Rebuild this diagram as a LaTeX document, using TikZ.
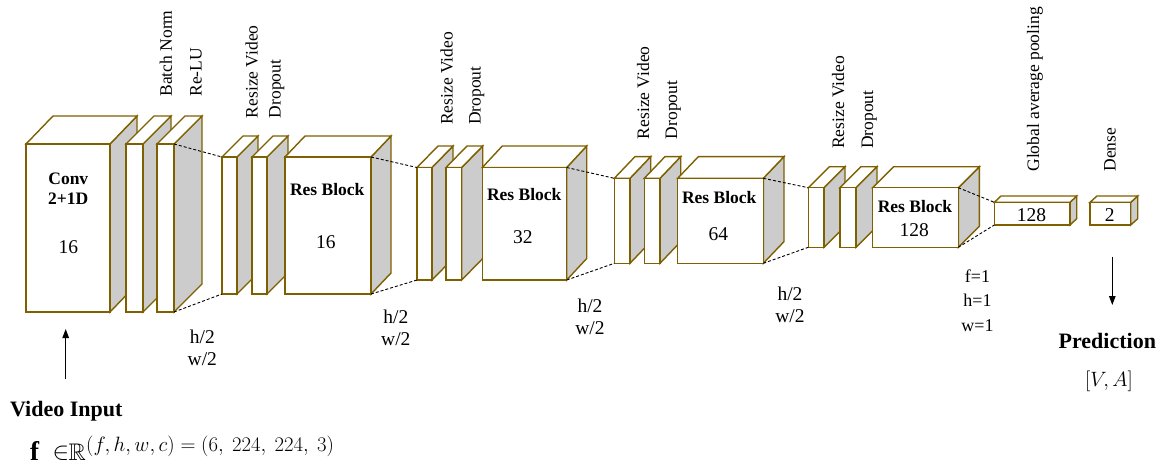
\documentclass[tikz,border=0pt]{standalone}
\usepackage{fontspec}
\usepackage{amssymb}
\setmainfont{Liberation Serif}
\usetikzlibrary{arrows.meta}

\definecolor{boxedge}{RGB}{127,96,0}
\definecolor{sidegray}{RGB}{204,204,204}

\tikzset{
  boxline/.style={draw=boxedge, line width=1.4pt, line join=miter},
  frontface/.style={boxline, fill=white, inner sep=0pt, outer sep=0pt},
  lbl/.style={font=\fontsize{17.5}{21}\selectfont, inner sep=0pt},
  rotlbl/.style={lbl, rotate=90, anchor=west},
  boldlbl/.style={font=\fontsize{17.5}{21}\selectfont\bfseries, inner sep=0pt},
  numlbl/.style={font=\fontsize{19.5}{22.5}\selectfont, inner sep=0pt},
  biglbl/.style={font=\fontsize{22}{26}\selectfont\bfseries, inner sep=0pt},
  link/.style={draw=black, line width=0.9pt, dash pattern=on 3pt off 2pt},
  flow/.style={draw=black, line width=1.1pt, -{Triangle[length=9pt,width=6.5pt]}}
}

% layer box: name, x, y (front top-left), width, height, depth dx, depth dy
\newcommand{\layerbox}[7]{%
  \draw[boxline, fill=sidegray] ({#2+#4},#3) -- ++(#6,-#7) -- ++(0,#5) -- ++(-#6,#7) -- cycle;
  \draw[boxline, fill=white] (#2,#3) -- ++(#6,-#7) -- ++(#4,0) -- ++(-#6,#7) -- cycle;
  \node[frontface, minimum width=#4pt, minimum height=#5pt, anchor=north west] (#1) at (#2,#3) {};
}

\begin{document}
\begin{tikzpicture}[x=1pt, y=-1pt]
\useasboundingbox (0,0) rectangle (1163,467);

% stem: Conv(2+1D), Batch Norm, ReLU
\layerbox{conv}{26}{144}{84}{168}{27}{28}
\layerbox{bn}{126}{144}{17}{168}{28}{28}
\layerbox{relu}{157}{144}{17}{168}{28}{28}

% stage 1
\layerbox{rvA}{222}{157}{15}{137}{21}{21}
\layerbox{doA}{252}{157}{15}{137}{21}{21}
\layerbox{rbA}{285}{157}{86}{137}{20}{21}

% stage 2
\layerbox{rvB}{417}{167.5}{15}{112.5}{21}{21.5}
\layerbox{doB}{446}{167.5}{15.7}{112.5}{21}{21.5}
\layerbox{rbB}{482.3}{167.5}{84.4}{112.5}{20}{21.5}

% stage 3
\layerbox{rvC}{614.3}{178.3}{15.7}{85}{20.7}{21.7}
\layerbox{doC}{644.3}{178.3}{15.7}{85}{20.7}{21.7}
\layerbox{rbC}{677.7}{178.3}{85.6}{85}{20.7}{21.7}

% stage 4
\layerbox{rvD}{808.3}{187.7}{15.7}{59.6}{21}{21}
\layerbox{doD}{840}{187.7}{16}{59.6}{21}{21}
\layerbox{rbD}{872.7}{187.7}{85.6}{59.6}{21}{21}

% head
\layerbox{gap}{994.3}{202.3}{75.7}{22.7}{6.7}{6.3}
\layerbox{dense}{1090}{202.3}{40.7}{22.7}{7}{6.3}

% dotted projection lines between stages
\draw[link] (relu.north east) -- (rvA.north west);
\draw[link] (relu.south east) -- (rvA.south west);
\draw[link] (rbA.north east) -- (rvB.north west);
\draw[link] (rbA.south east) -- (rvB.south west);
\draw[link] (rbB.north east) -- (rvC.north west);
\draw[link] (rbB.south east) -- (rvC.south west);
\draw[link] (rbC.north east) -- (rvD.north west);
\draw[link] (rbC.south east) -- (rvD.south west);
\draw[link] (rbD.north east) -- (gap.north west);
\draw[link] (rbD.south east) -- (gap.south west);

% texts on the front faces
\node[boldlbl] (convA) at (68.3,179) {Conv};
\node[boldlbl] (convB) at (68.3,199) {2+1D};
\node[numlbl] (convN) at (68.3,246.7) {16};
\node[boldlbl] (rbAt) at (327.2,190) {Res Block};
\node[numlbl] (rbAn) at (325.8,241.7) {16};
\node[boldlbl] (rbBt) at (524.2,194.5) {Res Block};
\node[numlbl] (rbBn) at (522.8,237.5) {32};
\node[boldlbl] (rbCt) at (719.2,197.3) {Res Block};
\node[numlbl] (rbCn) at (718.3,234.2) {64};
\node[boldlbl] (rbDt) at (915,206.7) {Res Block};
\node[numlbl] (rbDn) at (914.2,230.3) {128};
\node[numlbl] (gapn) at (1031.5,215) {128};
\node[numlbl] (densen) at (1109.7,215) {2};

% layer names (vertical)
\node[rotlbl] (tBN) at (166,96.7) {Batch Norm};
\node[rotlbl] (tRL) at (196,96.7) {Re-LU};
\node[rotlbl] (tRVA) at (251.7,118.3) {Resize Video};
\node[rotlbl] (tDOA) at (276.7,118.3) {Dropout};
\node[rotlbl] (tRVB) at (446.7,125) {Resize Video};
\node[rotlbl] (tDOB) at (476.7,125) {Dropout};
\node[rotlbl] (tRVC) at (643.3,139.3) {Resize Video};
\node[rotlbl] (tDOC) at (673.3,139.3) {Dropout};
\node[rotlbl] (tRVD) at (838.3,149) {Resize Video};
\node[rotlbl] (tDOD) at (869.3,149) {Dropout};
\node[rotlbl] (tGAP) at (1035,171.7) {Global average pooling};
\node[rotlbl] (tDN) at (1110,171.7) {Dense};

% resolution notes
\node[numlbl, align=center] (hwA) at (202.3,348) {h/2\\w/2};
\node[numlbl, align=center] (hwB) at (395.8,328) {h/2\\w/2};
\node[numlbl, align=center] (hwC) at (590,317) {h/2\\w/2};
\node[numlbl, align=center] (hwD) at (790,305) {h/2\\w/2};
\node[font=\fontsize{18}{24.5}\selectfont, inner sep=0pt, align=center] (fhw) at (977.5,300.7) {f=1\\h=1\\w=1};

% input
\coordinate (inTail) at (65.7,379);
\coordinate (inHead) at (65.7,329);
\draw[flow] (inTail) -- (inHead);
\node[biglbl, anchor=base] (vin) at (66.3,416.7) {Video Input};
\node[font=\fontsize{27}{30}\selectfont\bfseries, inner sep=0pt, anchor=base west] (fsym) at (30,460) {f};
\node[font=\fontsize{23}{26}\selectfont, inner sep=0pt, anchor=base west] (insym) at (52.5,459) {$\in$};
\node[font=\fontsize{24}{28}\selectfont, inner sep=0pt, anchor=base west] (realsym) at (68.5,460) {$\mathbb{R}$};
\node[font=\fontsize{19.5}{23}\selectfont, inner sep=0pt, anchor=base west] (shape) at (86,451) {$(f,h,w,c) = (6,\ 224,\ 224,\ 3)$};

% output
\coordinate (outTail) at (1112.3,256.7);
\coordinate (outHead) at (1112.3,305);
\draw[flow] (outTail) -- (outHead);
\node[biglbl, anchor=base] (pred) at (1107.3,348.3) {Prediction};
\node[font=\fontsize{21}{25}\selectfont, inner sep=0pt] (va) at (1109,381.7) {$[V, A]$};
\end{tikzpicture}
\end{document}
